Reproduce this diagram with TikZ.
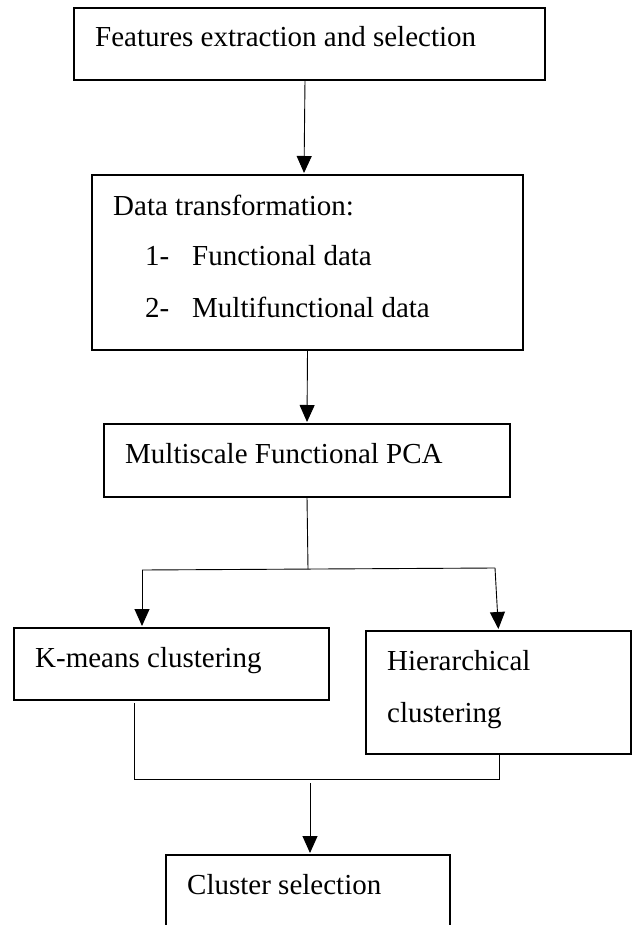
\documentclass[tikz,border=0pt]{standalone}
\usepackage{fontspec}
\setmainfont{Liberation Serif}
\usetikzlibrary{arrows.meta}
\begin{document}
\begin{tikzpicture}[x=1pt,y=1pt,
  box/.style={draw, line width=1.4pt, anchor=north west, inner sep=0pt, outer sep=0pt},
  lbl/.style={anchor=base west, inner sep=0pt, font=\fontsize{29}{34}\selectfont},
  conn/.style={line width=0.9pt},
  arr/.style={conn, -{Triangle[length=17pt,width=15pt]}, shorten >=2pt}]
\useasboundingbox (0,0) rectangle (635,-925);
\clip (0,0) rectangle (635,-925);
% boxes
\node[box, minimum width=471pt, minimum height=72pt] (b1) at (74,-8) {};
\node[box, minimum width=431pt, minimum height=175pt] (b2) at (92,-175) {};
\node[box, minimum width=406pt, minimum height=73pt] (b3) at (104,-424) {};
\node[box, minimum width=315pt, minimum height=72pt] (km) at (14,-628) {};
\node[box, minimum width=265pt, minimum height=123pt] (hc) at (366,-631) {};
\node[box, minimum width=284pt, minimum height=120pt] (cs) at (166,-855) {};
% texts
\node[lbl] (t1) at (95,-47) {Features extraction and selection};
\node[lbl] (t2a) at (113,-215) {Data transformation:};
\node[lbl] (t2b) at (145,-265) {1-};
\node[lbl] (t2c) at (192,-265) {Functional data};
\node[lbl] (t2d) at (145,-317) {2-};
\node[lbl] (t2e) at (192,-317) {Multifunctional data};
\node[lbl] (t3) at (125,-463) {Multiscale Functional PCA};
\node[lbl] (t4) at (35,-667) {K-means clustering};
\node[lbl] (t5a) at (387,-670) {Hierarchical};
\node[lbl] (t5b) at (387,-722) {clustering};
\node[lbl] (t6) at (187,-894) {Cluster selection};
% connectors
\draw[arr] ([xshift=-4.5pt]b1.south) -- ([xshift=-3.5pt]b2.north);
\draw[arr] (b2.south) -- (b3.north);
\coordinate (s) at (308,-569);
\coordinate (sl) at (142,-570);
\coordinate (sr) at (495,-568);
\draw[conn] (b3.south) -- (s);
\draw[conn] (sl) -- (sr);
\draw[arr] (sl) -- (sl |- km.north);
\draw[arr] (sr) -- (hc.north);
\coordinate (ml) at (134,-779);
\coordinate (mr) at (499,-779);
\draw[conn] ([yshift=-3pt]km.south -| ml) -- (ml) -- (mr) -- (mr |- hc.south);
\coordinate (ma) at (310,-783);
\draw[arr] (ma) -- (ma |- cs.north);
\end{tikzpicture}
\end{document}
